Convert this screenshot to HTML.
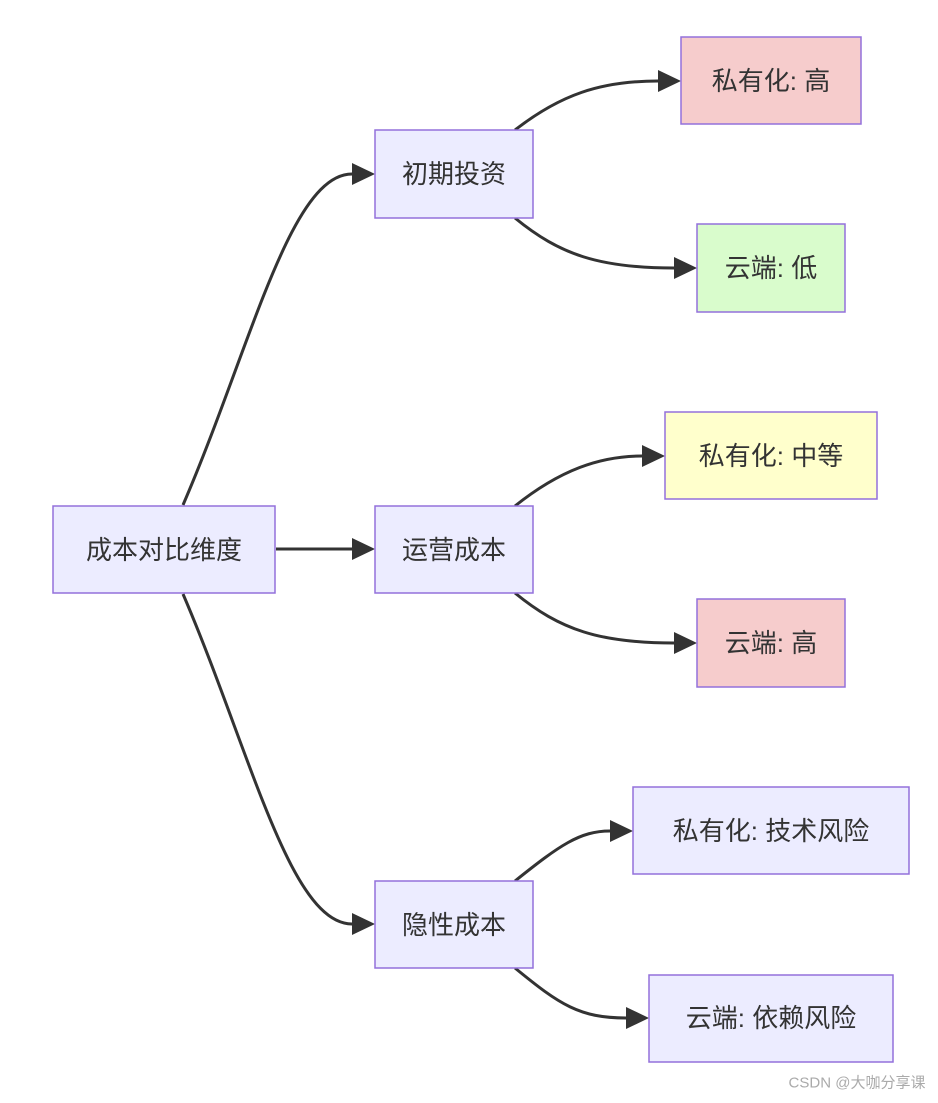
<!DOCTYPE html>
<html><head><meta charset="utf-8"><style>
body{margin:0;background:#fff;}
svg text{font-family:"Liberation Sans","Noto Sans CJK SC",sans-serif;font-size:26px;fill:#333;text-anchor:middle;dominant-baseline:central;}
</style></head><body>
<svg width="938" height="1098" viewBox="0 0 938 1098" xmlns="http://www.w3.org/2000/svg">
<defs><marker id="a" viewBox="0 0 10 10" refX="9" refY="5" markerWidth="8" markerHeight="8" markerUnits="userSpaceOnUse" orient="auto" style="overflow:visible"><path d="M0,0 L10,5 L0,10 z" fill="#333" transform="scale(2.4)" /></marker></defs>
<g fill="none" stroke="#333" stroke-width="3">
<path d="M183,505 C250,350 290,174 352,174" />
<path d="M276,549 L352,549" />
<path d="M183,594 C250,750 290,924 352,924" />
<path d="M515,130 C560,95 600,81 658,81" />
<path d="M515,218 C560,255 600,268 674,268" />
<path d="M515,506 C560,470 600,456 642,456" />
<path d="M515,593 C560,630 600,643 674,643" />
<path d="M515,881 C560,845 580,831 610,831" />
<path d="M515,968 C560,1005 580,1018 626,1018" />
</g>
<g fill="#333">
<path d="M352,163 L375,174 L352,185z"/>
<path d="M352,538 L375,549 L352,560z"/>
<path d="M352,913 L375,924 L352,935z"/>
<path d="M658,70 L681,81 L658,92z"/>
<path d="M674,257 L697,268 L674,279z"/>
<path d="M642,445 L665,456 L642,467z"/>
<path d="M674,632 L697,643 L674,654z"/>
<path d="M610,820 L633,831 L610,842z"/>
<path d="M626,1007 L649,1018 L626,1029z"/>
</g>
<g stroke="#9370db" stroke-width="1.5">
<rect x="53" y="506" width="222" height="87" fill="#ececff"/>
<rect x="375" y="130" width="158" height="88" fill="#ececff"/>
<rect x="375" y="506" width="158" height="87" fill="#ececff"/>
<rect x="375" y="881" width="158" height="87" fill="#ececff"/>
<rect x="681" y="37" width="180" height="87" fill="#f6cccc"/>
<rect x="697" y="224" width="148" height="88" fill="#d9fccc"/>
<rect x="665" y="412" width="212" height="87" fill="#ffffcc"/>
<rect x="697" y="599" width="148" height="88" fill="#f6cccc"/>
<rect x="633" y="787" width="276" height="87" fill="#ececff"/>
<rect x="649" y="975" width="244" height="87" fill="#ececff"/>
</g>
<text x="164" y="550">成本对比维度</text>
<text x="454" y="174">初期投资</text>
<text x="454" y="550">运营成本</text>
<text x="454" y="925">隐性成本</text>
<text x="771" y="81">私有化: 高</text>
<text x="771" y="268">云端: 低</text>
<text x="771" y="456">私有化: 中等</text>
<text x="771" y="643">云端: 高</text>
<text x="771" y="831">私有化: 技术风险</text>
<text x="771" y="1018">云端: 依赖风险</text>
<text x="857" y="1083" style="font-size:15px;fill:#aaa">CSDN @大咖分享课</text>
</svg>
</body></html>
